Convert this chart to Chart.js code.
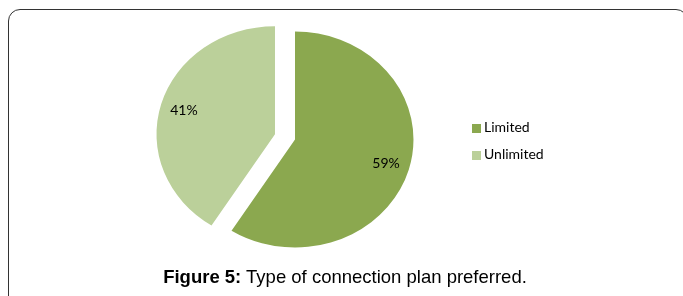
<!DOCTYPE html>
<html>
<head>
<meta charset="utf-8">
<script src="https://cdn.jsdelivr.net/npm/chart.js@4.4.1/dist/chart.umd.min.js"></script>
<style>
    html, body { margin: 0; padding: 0; background: #fff; }
    #wrap { position: relative; width: 683px; height: 296px; overflow: hidden; }
    #frame {
        position: absolute; left: 8px; top: 9px; width: 680px; height: 320px;
        border: 1.5px solid #333; border-radius: 12px; box-sizing: border-box;
    }
    #chartBox { position: absolute; left: 0; top: 0; width: 590px; height: 279px; }
    #legend { position: absolute; left: 472px; top: 118px; font-family: Lato, sans-serif; font-size: 14px; color: #000; }
    #legend div { height: 27px; display: flex; align-items: flex-start; }
    #legend span.box { display: inline-block; width: 9px; height: 9px; margin-top: 6px; margin-right: 3px; }
    #caption {
        position: absolute; left: 0; width: 690px; top: 266px; text-align: center;
        font-family: "Liberation Sans", Arial, sans-serif; font-size: 18.5px; color: #000;
    }
</style>
</head>
<body>
<div id="wrap">
    <div id="frame"></div>
    <div id="chartBox"><canvas id="pieChart"></canvas></div>
    <div id="legend"></div>
    <div id="caption"><b>Figure 5:</b> Type of connection plan preferred.</div>
</div>
<script>
// values
const categories = ['Limited', 'Unlimited'];
const shares = [59, 41];
const sliceColors = ['#8BA84F', '#BBD09A'];
const explode = [0, 19];   // px each slice is pulled out

// Excel drew the pie slightly wider than tall
const stretchX = 1.097;

// stretch the pie horizontally and pull slices out along their mid angle
// (chart.js offset also grows the radius, so do it by hand here)
const ellipsePlugin = {
    id: 'ellipse',
    beforeDatasetsDraw(chart) {
        const a = chart.chartArea;
        const cx = (a.left + a.right) / 2;
        const cy = (a.top + a.bottom) / 2;
        chart.getDatasetMeta(0).data.forEach((arc, i) => {
            const mid = (arc.startAngle + arc.endAngle) / 2;
            arc.x = cx + Math.cos(mid) * explode[i];
            arc.y = cy + Math.sin(mid) * explode[i];
        });
        const ctx = chart.ctx;
        ctx.save();
        ctx.translate(cx, 0);
        ctx.scale(stretchX, 1);
        ctx.translate(-cx, 0);
    },
    afterDatasetsDraw(chart) {
        chart.ctx.restore();
    }
};

const pctLabels = {
    id: 'pctLabels',
    afterDraw(chart) {
        const ctx = chart.ctx;
        const meta = chart.getDatasetMeta(0);
        const total = shares.reduce((s, v) => s + v, 0);
        const a = chart.chartArea;
        const cx = (a.left + a.right) / 2;
        ctx.save();
        ctx.font = '14px Lato, sans-serif';
        ctx.fillStyle = '#000';
        ctx.textAlign = 'center';
        ctx.textBaseline = 'middle';
        meta.data.forEach((arc, i) => {
            const mid = (arc.startAngle + arc.endAngle) / 2;
            const d = arc.outerRadius * 0.8;
            let x = arc.x + Math.cos(mid) * d;
            const y = arc.y + Math.sin(mid) * d;
            x = cx + (x - cx) * stretchX;
            ctx.fillText(Math.round(shares[i] / total * 100) + '%', x, y);
        });
        ctx.restore();
    }
};

const legend = document.getElementById('legend');
categories.forEach((c, i) => {
    const row = document.createElement('div');
    row.innerHTML = '<span class="box" style="background:' + sliceColors[i] + '"></span>' + c;
    legend.appendChild(row);
});

new Chart(document.getElementById('pieChart'), {
    type: 'pie',
    data: {
        labels: categories,
        datasets: [{
            data: shares,
            backgroundColor: sliceColors,
            borderWidth: 0,
            clip: false
        }]
    },
    options: {
        responsive: true,
        maintainAspectRatio: false,
        animation: false,
        radius: 108,
        layout: { padding: 0 },
        plugins: {
            legend: { display: false },
            tooltip: { enabled: false }
        }
    },
    plugins: [ellipsePlugin, pctLabels]
});
</script>
</body>
</html>
